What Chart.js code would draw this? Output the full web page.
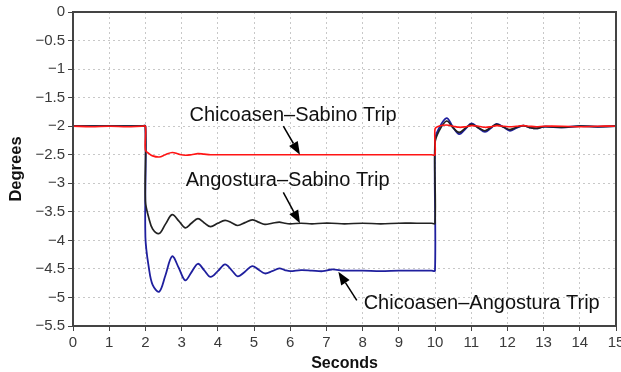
<!DOCTYPE html>
<html>
<head>
<meta charset="utf-8">
<script src="https://cdn.jsdelivr.net/npm/chart.js@4/dist/chart.umd.min.js"></script>
<style>
  html, body { margin: 0; padding: 0; background: #fff; }
  #wrap { width: 621px; height: 372px; position: relative; }
</style>
</head>
<body>
<div id="wrap"><canvas id="c"></canvas></div>
<script>
// time in seconds (2 and 10 appear twice: the vertical steps)
const times = [
  0, 0.5, 1, 1.5, 1.9, 2, 2, 2.1, 2.2, 2.38, 2.55, 2.74, 2.92, 3.1, 3.27, 3.45, 3.62, 3.8,
  4.0, 4.2, 4.38, 4.55, 4.75, 4.95, 5.12, 5.3, 5.5, 5.7, 5.85, 6.0, 6.3, 6.6, 6.9, 7.15,
  7.5, 8, 8.5, 9, 9.5, 9.9, 10, 10, 10.1, 10.32, 10.5, 10.67, 10.85, 11.01, 11.2, 11.38,
  11.55, 11.7, 11.9, 12.07, 12.25, 12.44, 12.6, 12.8, 13, 13.5, 14, 14.5, 15
];

const chicoasenSabino = [
  -2, -2.01, -2, -2.01, -2, -2, -2.42, -2.48, -2.52, -2.54, -2.5, -2.46, -2.49, -2.51, -2.5, -2.48, -2.49, -2.5,
  -2.5, -2.5, -2.5, -2.5, -2.5, -2.5, -2.5, -2.5, -2.5, -2.5, -2.5, -2.5, -2.5, -2.5, -2.5, -2.5,
  -2.5, -2.5, -2.5, -2.5, -2.5, -2.5, -2.5, -2.05, -2.0, -1.98, -2.0, -2.02, -2.01, -1.99, -2.0, -2.02,
  -2.01, -1.99, -2.0, -2.01, -2.0, -1.99, -2.0, -2.01, -2.0, -2.0, -2.01, -2.0, -2.0
];

const angosturaSabino = [
  -2, -2, -2, -2, -2, -2, -3.31, -3.62, -3.8, -3.88, -3.72, -3.55, -3.66, -3.78, -3.7, -3.62, -3.69, -3.76,
  -3.7, -3.65, -3.69, -3.74, -3.69, -3.64, -3.68, -3.72, -3.7, -3.68, -3.7, -3.71, -3.7, -3.71, -3.7, -3.7,
  -3.71, -3.7, -3.71, -3.7, -3.7, -3.7, -3.7, -2.3, -2.1, -1.91, -2.03, -2.11, -2.03, -1.97, -2.03, -2.08,
  -2.02, -1.97, -2.02, -2.06, -2.02, -1.99, -2.02, -2.04, -2.01, -2.02, -2.0, -2.01, -2.0
];

const chicoasenAngostura = [
  -2, -2, -2, -2, -2, -2, -3.94, -4.5, -4.78, -4.9, -4.62, -4.28, -4.48, -4.7, -4.56, -4.41, -4.52, -4.64,
  -4.54, -4.42, -4.52, -4.63, -4.55, -4.45, -4.51, -4.58, -4.54, -4.49, -4.52, -4.54, -4.52, -4.53, -4.54, -4.51,
  -4.53, -4.53, -4.54, -4.53, -4.53, -4.53, -4.53, -2.25, -2.05, -1.86, -2.02, -2.14, -2.04, -1.95, -2.03, -2.1,
  -2.03, -1.96, -2.02, -2.08, -2.03, -1.99, -2.02, -2.04, -2.01, -2.02, -2.0, -2.01, -2.0
];

const yTicks = [0, -0.5, -1, -1.5, -2, -2.5, -3, -3.5, -4, -4.5, -5, -5.5];

// label text, text centre [t, deg], arrow start [t, deg], arrow tip [t, deg]
const labels = [
  { text: "Chicoasen\u2013Sabino Trip", at: [6.08, -1.82], from: [5.81, -2.0], to: [6.27, -2.5] },
  { text: "Angostura\u2013Sabino Trip", at: [5.93, -2.95], from: [5.81, -3.16], to: [6.27, -3.7] },
  { text: "Chicoasen\u2013Angostura Trip", at: [11.29, -5.1], from: [7.84, -5.05], to: [7.33, -4.55] }
];

const toPts = vals => vals.map((v, i) => ({ x: times[i], y: v }));
const fmt = v => (v < 0 ? "\u2212" + String(-v) : String(v));

const frame = {
  id: "frame",
  afterDatasetsDraw(chart) {
    const { ctx, chartArea: a } = chart;
    ctx.save();
    ctx.strokeStyle = "#444";
    ctx.lineWidth = 2;
    ctx.strokeRect(a.left, a.top, a.right - a.left, a.bottom - a.top);
    ctx.restore();
  }
};

const notes = {
  id: "notes",
  afterDatasetsDraw(chart) {
    const { ctx, scales: { x, y } } = chart;
    ctx.save();
    labels.forEach(l => {
      ctx.font = "20px 'Liberation Sans', Arial, sans-serif";
      ctx.fillStyle = "#111";
      ctx.textAlign = "center";
      ctx.textBaseline = "middle";
      ctx.fillText(l.text, x.getPixelForValue(l.at[0]), y.getPixelForValue(l.at[1]));

      const x1 = x.getPixelForValue(l.from[0]), y1 = y.getPixelForValue(l.from[1]);
      const x2 = x.getPixelForValue(l.to[0]), y2 = y.getPixelForValue(l.to[1]);
      const ang = Math.atan2(y2 - y1, x2 - x1);
      const hl = 13, hw = 5;
      const bx = x2 - hl * Math.cos(ang), by = y2 - hl * Math.sin(ang);
      ctx.strokeStyle = "#000";
      ctx.lineWidth = 1.5;
      ctx.beginPath();
      ctx.moveTo(x1, y1);
      ctx.lineTo(bx, by);
      ctx.stroke();
      ctx.fillStyle = "#000";
      ctx.beginPath();
      ctx.moveTo(x2, y2);
      ctx.lineTo(bx + hw * Math.sin(ang), by - hw * Math.cos(ang));
      ctx.lineTo(bx - hw * Math.sin(ang), by + hw * Math.cos(ang));
      ctx.closePath();
      ctx.fill();
    });
    ctx.restore();
  }
};

Chart.defaults.font.family = "'Liberation Sans', Arial, sans-serif";
Chart.defaults.color = "#3a3a3a";

new Chart(document.getElementById("c"), {
  type: "line",
  data: {
    datasets: [
      { label: "Chicoasen\u2013Sabino Trip", data: toPts(chicoasenSabino), borderColor: "#ff1414", borderWidth: 1.6 },
      { label: "Angostura\u2013Sabino Trip", data: toPts(angosturaSabino), borderColor: "#222", borderWidth: 1.7 },
      { label: "Chicoasen\u2013Angostura Trip", data: toPts(chicoasenAngostura), borderColor: "#1f1f9e", borderWidth: 1.8 }
    ]
  },
  options: {
    responsive: true,
    maintainAspectRatio: false,
    animation: false,
    elements: { point: { radius: 0 }, line: { tension: 0.35 } },
    layout: { padding: { top: 11, right: 5, left: 0, bottom: 0 } },
    plugins: { legend: { display: false }, tooltip: { enabled: false } },
    scales: {
      x: {
        type: "linear",
        min: 0, max: 15,
        ticks: { stepSize: 1, font: { size: 15 }, padding: 3, maxRotation: 0 },
        grid: { color: "#c8c8c8", tickColor: "#444", tickLength: 5 },
        border: { display: false, dash: [2, 3] },
        title: { display: true, text: "Seconds", font: { size: 16, weight: "bold", lineHeight: 1 }, color: "#111", padding: { top: 0, bottom: 0 } },
        afterFit(s) { s.height = 46; s.paddingRight = 0; s.paddingLeft = 0; }
      },
      y: {
        min: -5.5, max: 0,
        afterBuildTicks(s) { s.ticks = yTicks.map(v => ({ value: v })); },
        ticks: { font: { size: 15 }, padding: 3, callback: v => fmt(v) },
        grid: { color: "#c8c8c8", tickColor: "#444", tickLength: 5 },
        border: { display: false, dash: [2, 3] },
        title: { display: true, text: "Degrees", font: { size: 16.5, weight: "bold" }, color: "#111", padding: { top: 7, bottom: 0 } },
        afterFit(s) { s.width = 73; }
      }
    }
  },
  plugins: [frame, notes]
});
</script>
</body>
</html>
